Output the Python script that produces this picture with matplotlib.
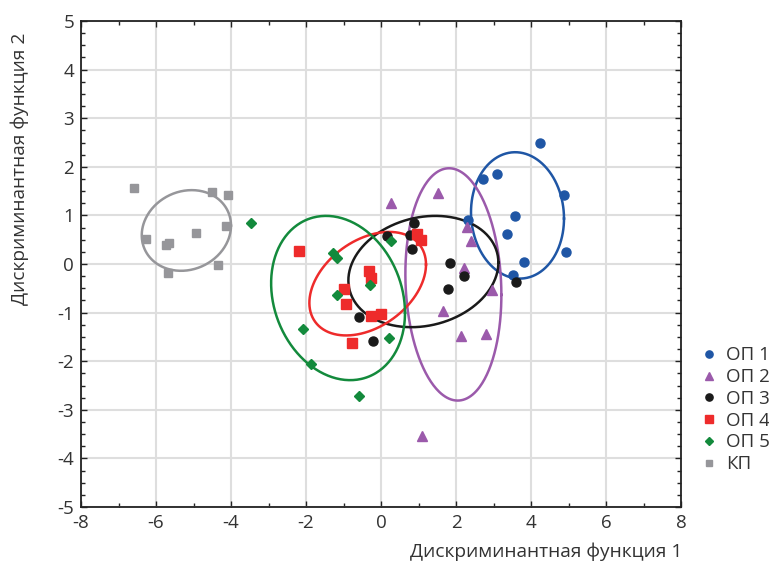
import numpy as np
import matplotlib
matplotlib.use("Agg")
import matplotlib.pyplot as plt
from matplotlib.ticker import MultipleLocator

plt.rcParams['font.family'] = ['Open Sans', 'DejaVu Sans']
plt.rcParams['axes.unicode_minus'] = False

# ----- Group scores (Discriminant function 1, 2) -----
op1_x = [4.25, 2.73, 3.08, 4.89, 3.56, 3.36, 4.92, 3.82, 3.51, 2.31]
op1_y = [2.49, 1.74, 1.85, 1.43, 0.99, 0.61, 0.24, 0.05, -0.23, 0.90]

op2_x = [0.27, 1.53, 2.28, 2.40, 2.22, 2.95, 1.66, 2.12, 2.80, 1.09]
op2_y = [1.26, 1.47, 0.76, 0.48, -0.09, -0.54, -0.97, -1.49, -1.45, -3.54]

op3_x = [0.16, 0.76, 0.87, 0.82, 1.85, 1.78, 2.22, 3.60, -0.58, -0.22]
op3_y = [0.58, 0.60, 0.85, 0.30, 0.03, -0.52, -0.24, -0.38, -1.10, -1.58]

op4_x = [-2.18, -0.31, -0.28, -0.98, -0.93, -0.27, 0.00, -0.77, 0.96, 1.07]
op4_y = [0.27, -0.14, -0.29, -0.51, -0.82, -1.08, -1.03, -1.62, 0.61, 0.49]

op5_x = [-3.46, -1.29, -1.18, 0.27, -0.29, -1.18, -2.09, -1.88, 0.20, -0.60]
op5_y = [0.84, 0.22, 0.12, 0.47, -0.43, -0.64, -1.34, -2.05, -1.53, -2.71]

kp_x = [-6.58, -4.51, -4.09, -4.13, -6.27, -5.73, -5.66, -4.93, -4.36, -5.69]
kp_y = [1.56, 1.48, 1.43, 0.78, 0.52, 0.39, 0.44, 0.63, -0.02, -0.18]

labels = ["ОП 1", "ОП 2", "ОП 3", "ОП 4", "ОП 5", "КП"]

# ellipses: centre x, centre y, half-range x, half-range y, correlation
ell_cx = [3.64, 1.93, 1.13, -0.355, -1.145, -5.19]
ell_cy = [1.00, -0.42, -0.155, -0.405, -0.70, 0.69]
ell_sx = [1.24, 1.28, 2.00, 1.555, 1.785, 1.19]
ell_sy = [1.30, 2.39, 1.145, 1.065, 1.69, 0.83]
ell_r = [-0.05, -0.09, 0.16, 0.37, -0.18, 0.12]

colors = ["#1f56a5", "#9b5aab", "#1a1a1a", "#ee2b2b", "#138a3c", "#96969a"]
markers = ["o", "^", "o", "s", "D", "s"]
msizes = [6.5, 6.5, 6.5, 6.5, 4.8, 6.0]

xs = [op1_x, op2_x, op3_x, op4_x, op5_x, kp_x]
ys = [op1_y, op2_y, op3_y, op4_y, op5_y, kp_y]

fig = plt.figure(figsize=(7.69, 5.66), dpi=100)
ax = fig.add_axes([81 / 769, 1 - 507 / 566, 600 / 769, 486 / 566])

t = np.linspace(0, 2 * np.pi, 300)
for i in range(6):
    ex = ell_cx[i] + ell_sx[i] * np.cos(t)
    ey = ell_cy[i] + ell_sy[i] * (ell_r[i] * np.cos(t) + np.sqrt(1 - ell_r[i] ** 2) * np.sin(t))
    ax.plot(ex, ey, color=colors[i], lw=1.8, zorder=3)

for i in range(6):
    ax.plot(xs[i], ys[i], linestyle="none", marker=markers[i], ms=msizes[i],
            color=colors[i], mec=colors[i], label=labels[i], zorder=4)

ax.set_xlim(-8, 8)
ax.set_ylim(-5, 5)
ax.xaxis.set_major_locator(MultipleLocator(2))
ax.xaxis.set_minor_locator(MultipleLocator(1))
ax.yaxis.set_major_locator(MultipleLocator(1))
ax.yaxis.set_minor_locator(MultipleLocator(0.25))
ax.grid(True, which="major", color="#dedede", lw=1.5, zorder=0)
ax.set_axisbelow(True)
ax.tick_params(which="both", direction="in", top=True, right=True,
               color="#222222", labelsize=13.5, labelcolor="#333333", pad=5)
ax.tick_params(which="major", length=4, width=1)
ax.tick_params(which="minor", length=3, width=1)
for s in ax.spines.values():
    s.set_color("#222222")
    s.set_linewidth(1.3)

fig.text(682 / 769, 1 - 552 / 566, "Дискриминантная функция 1", ha="right", va="center",
         fontsize=13.8, color="#333333")
fig.text(20 / 769, 1 - 169 / 566, "Дискриминантная функция 2", ha="center", va="center",
         rotation=90, fontsize=13.8, color="#333333")

ax.legend(loc="upper left", bbox_to_anchor=(1.0, 0.365), frameon=False,
          fontsize=13.5, handletextpad=0.3, labelspacing=0.2, markerscale=0.8,
          handlelength=1.2, labelcolor="#333333")

fig.savefig("out.png", dpi=100)
